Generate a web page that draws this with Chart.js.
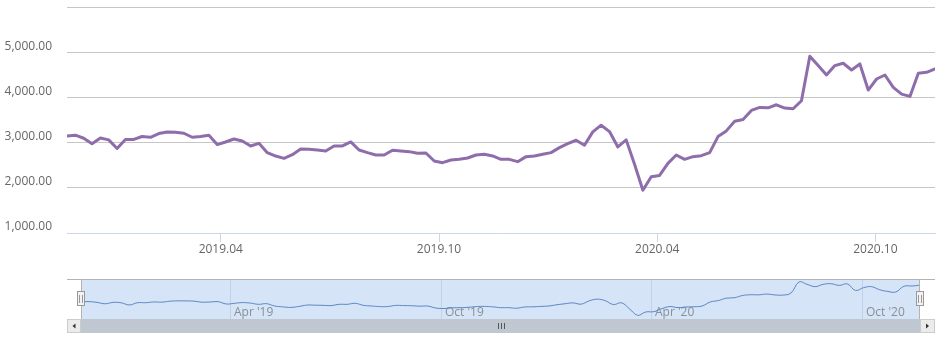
<!DOCTYPE html>
<html>
<head>
<meta charset="utf-8">
<title>Weekly close</title>
<script src="https://cdn.jsdelivr.net/npm/chart.js@4.4.1/dist/chart.umd.min.js"></script>
<style>
  html, body { margin: 0; padding: 0; background: #fff; }
  #wrap { position: relative; width: 948px; height: 340px; overflow: hidden; }
  #wrap canvas { position: absolute; left: 0; }
  #main { top: 0; }
  #nav { top: 270px; }
</style>
</head>
<body>
<div id="wrap">
  <canvas id="main" width="948" height="270"></canvas>
  <canvas id="nav" width="948" height="70"></canvas>
</div>
<script>
// weekly points
const weekDates = [
  '2018-11-23', '2018-11-30', '2018-12-07', '2018-12-14', '2018-12-21', '2018-12-28',
  '2019-01-04', '2019-01-11', '2019-01-18', '2019-01-25', '2019-02-01', '2019-02-08',
  '2019-02-15', '2019-02-22', '2019-03-01', '2019-03-08', '2019-03-15', '2019-03-22',
  '2019-03-29', '2019-04-05', '2019-04-12', '2019-04-19', '2019-04-26', '2019-05-03',
  '2019-05-10', '2019-05-17', '2019-05-24', '2019-05-31', '2019-06-07', '2019-06-14',
  '2019-06-21', '2019-06-28', '2019-07-05', '2019-07-12', '2019-07-19', '2019-07-26',
  '2019-08-02', '2019-08-09', '2019-08-16', '2019-08-23', '2019-08-30', '2019-09-06',
  '2019-09-13', '2019-09-20', '2019-09-27', '2019-10-04', '2019-10-11', '2019-10-18',
  '2019-10-25', '2019-11-01', '2019-11-08', '2019-11-15', '2019-11-22', '2019-11-29',
  '2019-12-06', '2019-12-13', '2019-12-20', '2019-12-27', '2020-01-03', '2020-01-10',
  '2020-01-17', '2020-01-24', '2020-01-31', '2020-02-07', '2020-02-14', '2020-02-21',
  '2020-02-28', '2020-03-06', '2020-03-13', '2020-03-20', '2020-03-27', '2020-04-03',
  '2020-04-10', '2020-04-17', '2020-04-24', '2020-05-01', '2020-05-08', '2020-05-15',
  '2020-05-22', '2020-05-29', '2020-06-05', '2020-06-12', '2020-06-19', '2020-06-26',
  '2020-07-03', '2020-07-10', '2020-07-17', '2020-07-24', '2020-07-31', '2020-08-07',
  '2020-08-14', '2020-08-21', '2020-08-28', '2020-09-04', '2020-09-11', '2020-09-18',
  '2020-09-25', '2020-10-02', '2020-10-09', '2020-10-16', '2020-10-23', '2020-10-30',
  '2020-11-06', '2020-11-13', '2020-11-20'
];
const closeValues = [
  3147, 3165, 3096, 2975, 3100, 3060, 2870, 3070, 3070, 3135,
  3118, 3200, 3236, 3229, 3207, 3118, 3133, 3162, 2956, 3013,
  3080, 3036, 2924, 2984, 2778, 2702, 2651, 2733, 2858, 2851,
  2836, 2813, 2926, 2926, 3015, 2837, 2778, 2726, 2726, 2830,
  2815, 2800, 2763, 2770, 2593, 2556, 2615, 2630, 2659, 2726,
  2741, 2704, 2630, 2630, 2578, 2689, 2704, 2741, 2778, 2889,
  2978, 3052, 2941, 3237, 3385, 3244, 2904, 3060, 2520, 1947,
  2244, 2274, 2541, 2726, 2630, 2689, 2711, 2778, 3133, 3259,
  3474, 3511, 3711, 3778, 3770, 3837, 3763, 3748, 3926, 4911,
  4704, 4496, 4704, 4756, 4607, 4740, 4162, 4407, 4496, 4222,
  4073, 4022, 4533, 4555, 4629
];

const yTickValues = [1000, 2000, 3000, 4000, 5000, 6000];
const yTickLabels = ['1,000.00', '2,000.00', '3,000.00', '4,000.00', '5,000.00', ''];
const xTickDates = ['2019-04-01', '2019-10-01', '2020-04-01', '2020-10-01'];
const xTickLabels = ['2019.04', '2019.10', '2020.04', '2020.10'];
const navTickLabels = ["Apr '19", "Oct '19", "Apr '20", "Oct '20"];

const DAY = 86400000;
const FONT = "'Open Sans', 'DejaVu Sans', sans-serif";
const toDay = (s) => Date.UTC(+s.slice(0, 4), +s.slice(5, 7) - 1, +s.slice(8, 10)) / DAY;

const points = weekDates.map((d, i) => ({ x: toDay(d), y: closeValues[i] }));
const firstDay = points[0].x;
const lastDay = points[points.length - 1].x;

// main chart
new Chart(document.getElementById('main'), {
  type: 'line',
  data: {
    datasets: [{
      data: points,
      borderColor: '#8f6dab',
      borderWidth: 3,
      borderJoinStyle: 'round',
      borderCapStyle: 'round',
      pointRadius: 0,
      tension: 0,
      fill: false
    }]
  },
  options: {
    responsive: false,
    animation: false,
    layout: { autoPadding: false, padding: { top: 7, right: 13, left: 0, bottom: 0 } },
    plugins: { legend: { display: false }, tooltip: { enabled: false } },
    scales: {
      x: {
        type: 'linear',
        min: firstDay,
        max: lastDay,
        afterBuildTicks: (axis) => { axis.ticks = xTickDates.map(d => ({ value: toDay(d) })); },
        afterFit: (axis) => { axis.height = 37; axis.paddingLeft = 0; axis.paddingRight = 0; },
        grid: { drawOnChartArea: false, drawTicks: true, tickLength: 9, color: '#ccd6eb' },
        border: { display: true, color: '#ccd6eb' },
        ticks: {
          autoSkip: false, maxRotation: 0, padding: 0,
          color: '#666666', font: { family: FONT, size: 12 },
          callback: (v, i) => xTickLabels[i]
        }
      },
      y: {
        min: 1000,
        max: 6000,
        afterBuildTicks: (axis) => { axis.ticks = yTickValues.map(v => ({ value: v })); },
        afterFit: (axis) => { axis.width = 67; axis.paddingTop = 0; axis.paddingBottom = 0; },
        grid: {
          drawTicks: false,
          color: (ctx) => (ctx.tick && ctx.tick.value === 1000) ? 'rgba(0,0,0,0)' : '#c6c6c6'
        },
        border: { display: false },
        ticks: {
          padding: 15, labelOffset: -6,
          color: '#666666', font: { family: FONT, size: 12 },
          callback: (v, i) => yTickLabels[i]
        }
      }
    }
  }
});

// navigator + scrollbar
const dataMin = Math.min(...closeValues);
const dataMax = Math.max(...closeValues);
const navRange = dataMax - dataMin;

const navigatorDecor = {
  id: 'navigatorDecor',
  beforeDatasetsDraw(chart) {
    const { ctx, chartArea: a, scales: { x } } = chart;
    ctx.save();
    ctx.fillStyle = '#d5e4f6';
    ctx.fillRect(a.left, a.top, a.right - a.left, a.bottom - a.top);
    ctx.strokeStyle = '#c2d2e6';
    ctx.lineWidth = 1;
    ctx.font = '12px ' + FONT;
    ctx.textBaseline = 'alphabetic';
    ctx.fillStyle = '#8a8f96';
    xTickDates.forEach((d, i) => {
      const px = Math.round(x.getPixelForValue(toDay(d))) + 0.5;
      ctx.beginPath();
      ctx.moveTo(px, a.top);
      ctx.lineTo(px, a.bottom);
      ctx.stroke();
      ctx.fillText(navTickLabels[i], px + 3.5, a.bottom - 3);
    });
    ctx.restore();
  },
  afterDraw(chart) {
    const { ctx, chartArea: a } = chart;
    const sbTop = a.bottom;
    const sbH = 14;
    ctx.save();
    ctx.lineWidth = 1;

    // scrollbar bar
    ctx.fillStyle = '#bfc8d1';
    ctx.fillRect(a.left, sbTop, a.right - a.left, sbH);
    // grip
    const cx = Math.round((a.left + a.right) / 2);
    ctx.strokeStyle = '#555555';
    ctx.beginPath();
    [-3, 0, 3].forEach(o => {
      ctx.moveTo(cx + o + 0.5, sbTop + 4);
      ctx.lineTo(cx + o + 0.5, sbTop + 10);
    });
    ctx.stroke();

    // arrow buttons
    const button = (x0, w, dir) => {
      ctx.fillStyle = '#ebebeb';
      ctx.fillRect(x0, sbTop, w, sbH);
      ctx.strokeStyle = '#cccccc';
      ctx.strokeRect(x0 + 0.5, sbTop + 0.5, w - 1, sbH - 1);
      const mx = x0 + w / 2;
      const my = sbTop + sbH / 2;
      ctx.fillStyle = '#333333';
      ctx.beginPath();
      ctx.moveTo(mx - 1.5 * dir, my);
      ctx.lineTo(mx + 1.5 * dir, my - 2.5);
      ctx.lineTo(mx + 1.5 * dir, my + 2.5);
      ctx.closePath();
      ctx.fill();
    };
    button(a.left - 14, 14, 1);
    button(a.right, 15, -1);

    // outline
    ctx.strokeStyle = '#b3b3b3';
    ctx.beginPath();
    ctx.moveTo(a.left - 14, a.top + 0.5);
    ctx.lineTo(a.right + 15, a.top + 0.5);
    ctx.moveTo(a.left + 0.5, a.top);
    ctx.lineTo(a.left + 0.5, a.bottom);
    ctx.moveTo(a.right - 0.5, a.top);
    ctx.lineTo(a.right - 0.5, a.bottom);
    ctx.stroke();

    // handles
    const midY = Math.round((a.top + a.bottom) / 2);
    const handle = (hx) => {
      const x0 = Math.round(hx) - 4;
      ctx.fillStyle = '#f2f2f2';
      ctx.fillRect(x0, midY - 8, 8, 15);
      ctx.strokeStyle = '#999999';
      ctx.strokeRect(x0 + 0.5, midY - 7.5, 7, 14);
      ctx.beginPath();
      ctx.moveTo(x0 + 2.5, midY - 4);
      ctx.lineTo(x0 + 2.5, midY + 4);
      ctx.moveTo(x0 + 5.5, midY - 4);
      ctx.lineTo(x0 + 5.5, midY + 4);
      ctx.stroke();
    };
    handle(a.left);
    handle(a.right);
    ctx.restore();
  }
};

new Chart(document.getElementById('nav'), {
  type: 'line',
  data: {
    datasets: [{
      data: points,
      borderColor: '#5b87c6',
      borderWidth: 1,
      pointRadius: 0,
      tension: 0.4,
      fill: false
    }]
  },
  options: {
    responsive: false,
    animation: false,
    layout: { autoPadding: false, padding: { top: 9, right: 28, left: 81, bottom: 21 } },
    plugins: { legend: { display: false }, tooltip: { enabled: false } },
    scales: {
      x: { type: 'linear', display: false, min: firstDay, max: lastDay },
      y: { display: false, min: dataMin - navRange * 0.11, max: dataMax + navRange * 0.09 }
    }
  },
  plugins: [navigatorDecor]
});
</script>
</body>
</html>
